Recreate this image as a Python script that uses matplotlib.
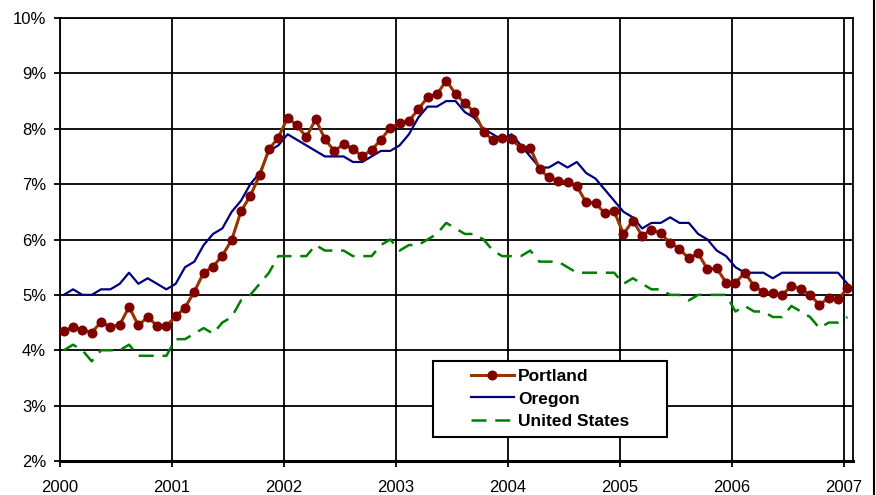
import numpy as np
import matplotlib
matplotlib.use("Agg")
import matplotlib.pyplot as plt
import matplotlib.patches as patches
from matplotlib.lines import Line2D

plt.rcParams['font.family'] = ['Liberation Sans', 'DejaVu Sans']

# monthly unemployment rate (%), Jan 2000 .. Jan 2007
portland = [4.34, 4.42, 4.37, 4.32, 4.51, 4.42, 4.46, 4.78, 4.45, 4.60, 4.44, 4.44,
            4.61, 4.77, 5.06, 5.40, 5.51, 5.71, 5.99, 6.51, 6.79, 7.16, 7.63, 7.84,
            8.20, 8.06, 7.85, 8.17, 7.81, 7.60, 7.72, 7.64, 7.50, 7.62, 7.80, 8.02,
            8.10, 8.14, 8.35, 8.57, 8.62, 8.87, 8.63, 8.46, 8.30, 7.95, 7.79, 7.83,
            7.81, 7.65, 7.66, 7.27, 7.12, 7.06, 7.04, 6.96, 6.67, 6.66, 6.47, 6.51,
            6.10, 6.34, 6.07, 6.18, 6.11, 5.94, 5.83, 5.66, 5.75, 5.46, 5.48, 5.22,
            5.22, 5.40, 5.16, 5.05, 5.03, 5.00, 5.16, 5.11, 5.00, 4.82, 4.95, 4.92,
            5.12]
oregon = [5.0, 5.1, 5.0, 5.0, 5.1, 5.1, 5.2, 5.4, 5.2, 5.3, 5.2, 5.1,
          5.2, 5.5, 5.6, 5.9, 6.1, 6.2, 6.5, 6.7, 7.0, 7.2, 7.6, 7.7,
          7.9, 7.8, 7.7, 7.6, 7.5, 7.5, 7.5, 7.4, 7.4, 7.5, 7.6, 7.6,
          7.7, 7.9, 8.2, 8.4, 8.4, 8.5, 8.5, 8.3, 8.2, 8.0, 7.9, 7.8,
          7.9, 7.7, 7.5, 7.3, 7.3, 7.4, 7.3, 7.4, 7.2, 7.1, 6.9, 6.7,
          6.5, 6.4, 6.2, 6.3, 6.3, 6.4, 6.3, 6.3, 6.1, 6.0, 5.8, 5.7,
          5.5, 5.4, 5.4, 5.4, 5.3, 5.4, 5.4, 5.4, 5.4, 5.4, 5.4, 5.4,
          5.2]
united_states = [4.0, 4.1, 4.0, 3.8, 4.0, 4.0, 4.0, 4.1, 3.9, 3.9, 3.9, 3.9,
                 4.2, 4.2, 4.3, 4.4, 4.3, 4.5, 4.6, 4.9, 5.0, 5.2, 5.4, 5.7,
                 5.7, 5.7, 5.7, 5.9, 5.8, 5.8, 5.8, 5.7, 5.7, 5.7, 5.9, 6.0,
                 5.8, 5.9, 5.9, 6.0, 6.1, 6.3, 6.2, 6.1, 6.1, 6.0, 5.8, 5.7,
                 5.7, 5.7, 5.8, 5.6, 5.6, 5.6, 5.5, 5.4, 5.4, 5.4, 5.4, 5.4,
                 5.2, 5.3, 5.2, 5.1, 5.1, 5.0, 5.0, 4.9, 5.0, 5.0, 5.0, 5.0,
                 4.7, 4.8, 4.7, 4.7, 4.6, 4.6, 4.8, 4.7, 4.6, 4.4, 4.5, 4.5,
                 4.6]
years = [2000, 2001, 2002, 2003, 2004, 2005, 2006, 2007]
y_ticks = [2, 3, 4, 5, 6, 7, 8, 9, 10]

# points sit a little after the start of each month
x = 2000 + (np.arange(len(portland)) + 0.4) / 12

fig = plt.figure(figsize=(8.76, 4.95), dpi=100)
ax = fig.add_axes([60 / 876, 34 / 495, 793 / 876, 443 / 495])

ax.plot(x, united_states, color='#008000', lw=1.8, dashes=(6, 3.5), label='United States', zorder=2)
ax.plot(x, oregon, color='#000080', lw=1.6, label='Oregon', zorder=3)
ax.plot(x, portland, color='#993300', lw=2.2, marker='o', markersize=6.2,
        markerfacecolor='#800000', markeredgecolor='#800000', label='Portland', zorder=4)

ax.set_xlim(2000, 2000 + 85 / 12)
ax.set_ylim(2, 10)
ax.set_xticks(years)
ax.set_xticklabels([str(yr) for yr in years])
ax.set_yticks(y_ticks)
ax.set_yticklabels(['%d%%' % v for v in y_ticks])
ax.grid(True, color='black', lw=1.3)
ax.set_axisbelow(True)

for side in ['left', 'right', 'top']:
    ax.spines[side].set_linewidth(1.3)
ax.spines['bottom'].set_linewidth(2.2)
ax.tick_params(axis='y', direction='out', length=4, width=1.3, pad=6, labelsize=12)
ax.tick_params(axis='x', direction='out', length=4, width=1.3, pad=10, labelsize=12)

# legend box with white fill, drawn by hand for the wide side padding
box = patches.Rectangle((0.4704, 0.0542), 0.2951, 0.1716, transform=ax.transAxes,
                        facecolor='white', edgecolor='black', lw=1.5, zorder=5)
ax.add_patch(box)
handles, labels = ax.get_legend_handles_labels()
leg = ax.legend(handles[::-1], labels[::-1], loc='center', bbox_to_anchor=(0.618, 0.140),
                frameon=False, numpoints=1, handlelength=2.5, handletextpad=0.25,
                labelspacing=0.42, prop={'weight': 'bold', 'size': 12.5})
leg.set_zorder(6)

# outer border line on the right edge of the picture
fig.add_artist(Line2D([874 / 876, 874 / 876], [0, 1], color='black', lw=1.5))

fig.savefig('out.png', dpi=100)
